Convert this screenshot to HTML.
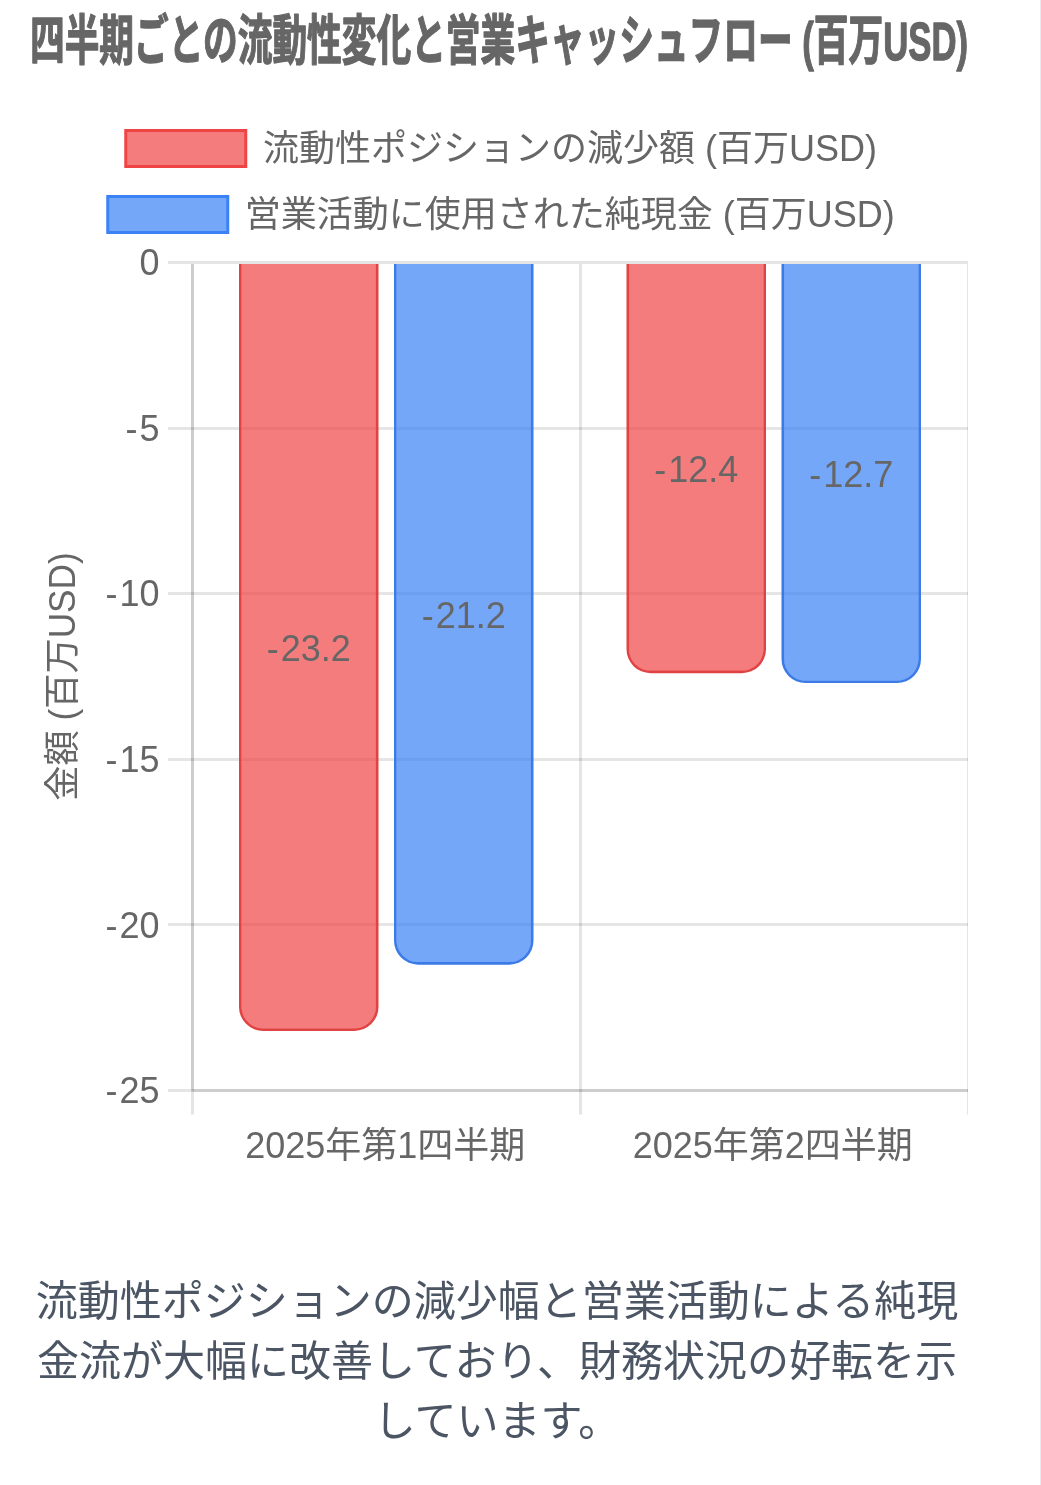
<!DOCTYPE html>
<html lang="ja"><head><meta charset="utf-8"><title>四半期ごとの流動性変化と営業キャッシュフロー</title>
<style>
html,body{margin:0;padding:0;background:#fff;}
body{width:1041px;height:1485px;overflow:hidden;position:relative;font-family:"Liberation Sans", "Noto Sans CJK JP", sans-serif;}
svg{position:absolute;left:0;top:0;display:block}
svg text{font-family:"Liberation Sans", "Noto Sans CJK JP", sans-serif;}
.t36{font-size:36px;fill:#666}
.desc{position:absolute;left:0;top:1272.4px;width:994px;margin:0;padding:0;text-align:center;white-space:nowrap;font-size:42px;line-height:60px;color:#4b5563;font-weight:400}
.edge{position:absolute;left:1040px;top:0;width:1px;height:1485px;background:#e9eaee}
</style></head><body>
<div class="edge"></div>
<svg width="1041" height="1200" viewBox="0 0 1041 1200" role="img" aria-label="四半期ごとの流動性変化と営業キャッシュフロー (百万USD)">
<text x="30" y="60" font-size="54" font-weight="bold" fill="#666" stroke="#666" stroke-width="1.3" stroke-linejoin="round" textLength="938" lengthAdjust="spacingAndGlyphs">四半期ごとの流動性変化と営業キャッシュフロー (百万USD)</text>
<rect x="125.75" y="130.5" width="120" height="36" fill="rgba(239,68,68,0.7)" stroke="#ef4444" stroke-width="3"/>
<text class="t36" x="263" y="161">流動性ポジションの減少額 (百万USD<tspan letter-spacing="-2.7">)</tspan></text>
<rect x="107.75" y="196.5" width="120" height="36" fill="rgba(59,130,246,0.7)" stroke="#3b82f6" stroke-width="3"/>
<text class="t36" x="244.8" y="227">営業活動に使用された純現金 (百万USD<tspan letter-spacing="-2.7">)</tspan></text>
<g stroke="#000" stroke-opacity="0.1" stroke-width="3" fill="none">
<line x1="168" y1="262.50" x2="968" y2="262.50"/>
<line x1="168" y1="428.50" x2="968" y2="428.50"/>
<line x1="168" y1="593.50" x2="968" y2="593.50"/>
<line x1="168" y1="759.50" x2="968" y2="759.50"/>
<line x1="168" y1="924.50" x2="968" y2="924.50"/>
<line x1="168" y1="1090.50" x2="968" y2="1090.50"/>
<line x1="192.50" y1="264.0" x2="192.50" y2="1114.5"/>
<line x1="580.50" y1="264.0" x2="580.50" y2="1114.5"/>
<line x1="967.5" y1="264.0" x2="967.5" y2="1114.5" stroke-width="1"/>
<line x1="192.5" y1="264.0" x2="192.5" y2="1090.5"/>
<line x1="192.5" y1="1090.5" x2="968" y2="1090.5"/>
</g>
<path d="M239.00 264 V1006.88 A24 24 0 0 0 263.00 1030.88 H354.50 A24 24 0 0 0 378.50 1006.88 V264 Z M241.60 264 V1006.88 A21.40 21.40 0 0 0 263.00 1028.28 H354.50 A21.40 21.40 0 0 0 375.90 1006.88 V264 Z" fill="#e04343" fill-rule="evenodd"/>
<path d="M241.30 264 V1006.88 A21.70 21.70 0 0 0 263.00 1028.58 H354.50 A21.70 21.70 0 0 0 376.20 1006.88 V264 Z" fill="#ef4444" fill-opacity="0.7"/>
<path d="M394.00 264 V940.64 A24 24 0 0 0 418.00 964.64 H509.50 A24 24 0 0 0 533.50 940.64 V264 Z M396.60 264 V940.64 A21.40 21.40 0 0 0 418.00 962.04 H509.50 A21.40 21.40 0 0 0 530.90 940.64 V264 Z" fill="#3c7ae6" fill-rule="evenodd"/>
<path d="M396.30 264 V940.64 A21.70 21.70 0 0 0 418.00 962.34 H509.50 A21.70 21.70 0 0 0 531.20 940.64 V264 Z" fill="#3b82f6" fill-opacity="0.7"/>
<path d="M626.50 264 V649.19 A24 24 0 0 0 650.50 673.19 H742.00 A24 24 0 0 0 766.00 649.19 V264 Z M629.10 264 V649.19 A21.40 21.40 0 0 0 650.50 670.59 H742.00 A21.40 21.40 0 0 0 763.40 649.19 V264 Z" fill="#e04343" fill-rule="evenodd"/>
<path d="M628.80 264 V649.19 A21.70 21.70 0 0 0 650.50 670.89 H742.00 A21.70 21.70 0 0 0 763.70 649.19 V264 Z" fill="#ef4444" fill-opacity="0.7"/>
<path d="M781.50 264 V659.12 A24 24 0 0 0 805.50 683.12 H897.00 A24 24 0 0 0 921.00 659.12 V264 Z M784.10 264 V659.12 A21.40 21.40 0 0 0 805.50 680.52 H897.00 A21.40 21.40 0 0 0 918.40 659.12 V264 Z" fill="#3c7ae6" fill-rule="evenodd"/>
<path d="M783.80 264 V659.12 A21.70 21.70 0 0 0 805.50 680.82 H897.00 A21.70 21.70 0 0 0 918.70 659.12 V264 Z" fill="#3b82f6" fill-opacity="0.7"/>
<text class="t36" x="308.75" y="660.84" text-anchor="middle"><tspan letter-spacing="2">-</tspan>23.2</text>
<text class="t36" x="463.75" y="627.72" text-anchor="middle"><tspan letter-spacing="2">-</tspan>21.2</text>
<text class="t36" x="696.25" y="481.99" text-anchor="middle"><tspan letter-spacing="2">-</tspan>12.4</text>
<text class="t36" x="851.25" y="486.96" text-anchor="middle"><tspan letter-spacing="2">-</tspan>12.7</text>
<text class="t36" x="159.5" y="275.20" text-anchor="end">0</text>
<text class="t36" x="159.5" y="440.80" text-anchor="end"><tspan letter-spacing="2">-</tspan>5</text>
<text class="t36" x="159.5" y="606.40" text-anchor="end"><tspan letter-spacing="2">-</tspan>10</text>
<text class="t36" x="159.5" y="772.00" text-anchor="end"><tspan letter-spacing="2">-</tspan>15</text>
<text class="t36" x="159.5" y="937.60" text-anchor="end"><tspan letter-spacing="2">-</tspan>20</text>
<text class="t36" x="159.5" y="1103.20" text-anchor="end"><tspan letter-spacing="2">-</tspan>25</text>
<text class="t36" x="385.25" y="1158" text-anchor="middle">2025年第1四半期</text>
<text class="t36" x="772.75" y="1158" text-anchor="middle">2025年第2四半期</text>
<text class="t36" transform="translate(75 676.5) rotate(-90)" text-anchor="middle" textLength="248.5" lengthAdjust="spacingAndGlyphs">金額 (百万USD)</text>
</svg>
<p class="desc">流動性ポジションの減少幅と営業活動による純現<br>金流が大幅に改善しており、財務状況の好転を示<br>しています。</p>
</body></html>
